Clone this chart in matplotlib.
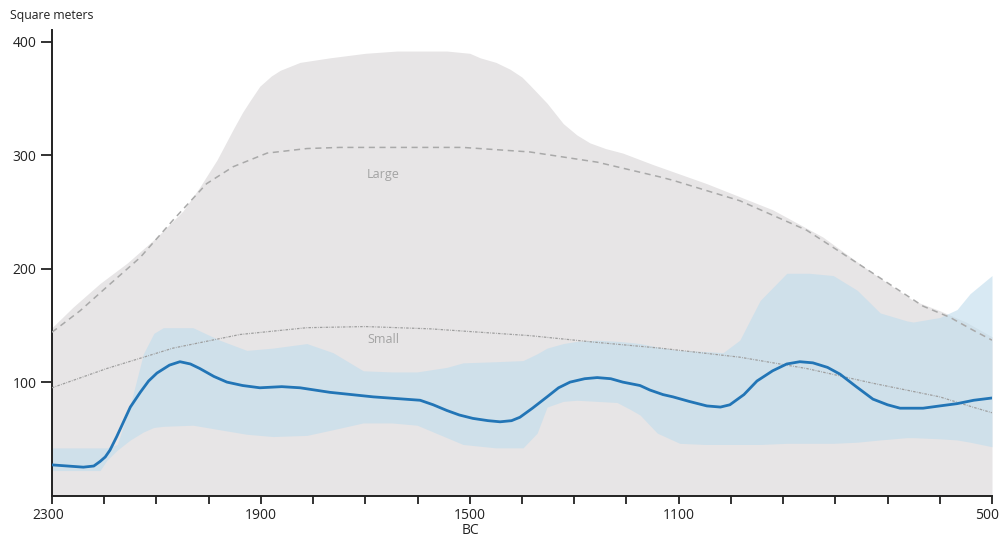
import matplotlib.pyplot as plt
import matplotlib.transforms as mtransforms
import numpy as np

plt.rcParams['font.family'] = ['Open Sans', 'DejaVu Sans']

# mean house size, all houses (blue line)
mean_years = [2300, 2270, 2240, 2220, 2208, 2198, 2189, 2176, 2164, 2150, 2131, 2115,
              2099, 2075, 2055, 2035, 2017, 1990, 1965, 1935, 1902, 1860, 1825,
              1768, 1685, 1595, 1570, 1544, 1520, 1494, 1465, 1442, 1420, 1404, 1380,
              1352, 1330, 1308, 1280, 1256, 1230, 1207, 1174, 1155, 1130, 1111, 1080,
              1046, 1020, 1002, 975, 950, 920, 893, 868, 843, 815, 791, 760, 728, 700,
              676, 650, 632, 600, 567, 535, 500]
mean_vals = [27, 26, 25, 26, 30, 34, 40, 52, 64, 78, 91, 101,
             108, 115, 118, 116, 112, 105, 100, 97, 95, 96, 95,
             91, 87, 84, 80, 75, 71, 68, 66, 65, 66, 69, 77,
             87, 95, 100, 103, 104, 103, 100, 97, 93, 89, 87, 83,
             79, 78, 80, 89, 101, 110, 116, 118, 117, 113, 107, 96, 85, 80,
             77, 77, 77, 79, 81, 84, 86]

# confidence band around the mean (light blue)
band_years = [2300, 2250, 2208, 2195, 2175, 2150, 2125, 2105, 2087, 2030, 1979, 1927,
              1877, 1812, 1762, 1704, 1650, 1601, 1544, 1513, 1450, 1398, 1371, 1352,
              1321, 1295, 1256, 1218, 1193, 1174, 1141, 1098, 1050, 1015, 983, 944,
              893, 850, 804, 758, 714, 663, 651, 600, 567, 542, 500]
band_hi = [42, 42, 42, 42, 45, 80, 125, 143, 148, 148, 137, 128,
           130, 134, 126, 110, 109, 109, 113, 117, 118, 119, 125, 130,
           134, 136, 137, 136, 135, 134, 131, 128, 127, 126, 137, 172,
           196, 196, 194, 181, 161, 154, 153, 157, 164, 178, 194]
band_lo = [22, 22, 22, 31, 40, 49, 56, 60, 61, 62, 58, 54,
           52, 53, 58, 64, 64, 62, 51, 45, 42, 42, 55, 78,
           83, 84, 83, 82, 76, 71, 55, 46, 45, 45, 45, 45,
           46, 46, 46, 47, 49, 51, 51, 50, 49, 47, 43]

# range of large houses (grey area)
large_years = [2300, 2260, 2208, 2156, 2099, 2049, 2017, 1984, 1953, 1935, 1921, 1902,
               1880, 1863, 1825, 1768, 1700, 1639, 1544, 1500, 1480, 1450, 1423, 1400,
               1385, 1352, 1321, 1295, 1270, 1240, 1207, 1150, 1046, 920, 824, 728,
               651, 600, 550, 500]
large_hi = [148, 166, 187, 205, 228, 251, 272, 296, 323, 338, 348, 361,
            370, 375, 382, 386, 390, 392, 392, 390, 386, 382, 376, 369,
            362, 346, 328, 318, 311, 306, 302, 292, 275, 252, 228, 196,
            172, 163, 153, 140]

# trend lines
large_trend_years = [2300, 2246, 2195, 2131, 2068, 2004, 1953, 1888, 1812, 1749, 1704,
                     1600, 1513, 1385, 1256, 1136, 1111, 983, 855, 728, 632, 580, 537, 500]
large_trend = [144, 163, 184, 210, 243, 275, 290, 302, 306, 307, 307,
               307, 307, 303, 294, 281, 278, 260, 234, 196, 167, 157, 146, 137]
small_trend_years = [2300, 2195, 2068, 1940, 1812, 1700, 1576, 1385, 1256, 1136,
                     983, 855, 728, 600, 537, 500]
small_trend = [95, 112, 130, 142, 148, 149, 147, 141, 135, 130,
               122, 112, 99, 87, 78, 73]

x_ticks = np.arange(500, 2301, 100)
x_labels = {2300: '2300', 1900: '1900', 1500: '1500', 1100: '1100', 500: '500'}
y_ticks = [100, 200, 300, 400]

fig = plt.figure(figsize=(9.99, 5.39), dpi=100)
ax = fig.add_axes([52 / 999, 43.5 / 539, 940 / 999, 466 / 539])

ax.fill_between(large_years, 0, large_hi, color='#e7e5e6', lw=0, zorder=1)
ax.fill_between(band_years, band_lo, band_hi, color='#c1dded', alpha=0.62,
                lw=0, zorder=2)
ax.plot(large_trend_years, large_trend, color='#a9a9a9', lw=1.1,
        ls=(0, (4, 3)), zorder=3)
ax.plot(small_trend_years, small_trend, color='#9e9e9e', lw=0.9,
        ls=(0, (2, 1, 0.6, 1)), zorder=3)
ax.plot(mean_years, mean_vals, color='#2275b6', lw=2.0, zorder=4,
        solid_capstyle='round', solid_joinstyle='round')

ax.text(1666, 283, 'Large', color='#a3a3a3', fontsize=9, ha='center', va='center')
ax.text(1666, 138, 'Small', color='#a3a3a3', fontsize=9, ha='center', va='center')

ax.set_xlim(2300, 500)
ax.set_ylim(0, 411)
ax.set_xticks(x_ticks)
ax.set_xticklabels([x_labels.get(int(t), '') for t in x_ticks])
ax.set_yticks(y_ticks)

for s in ['top', 'right']:
    ax.spines[s].set_visible(False)
for s in ['left', 'bottom']:
    ax.spines[s].set_linewidth(1.4)
    ax.spines[s].set_color('#222222')
ax.tick_params(axis='x', length=6, width=1.3, pad=3, labelsize=10,
               color='#222222', labelcolor='#222222')
ax.tick_params(axis='y', length=8, width=1.3, pad=3, labelsize=10,
               color='#222222', labelcolor='#222222')

# nudge the end labels inward like the reference
labels = ax.get_xticklabels()
shift_first = mtransforms.ScaledTranslation(-4 / 100, 0, fig.dpi_scale_trans)
shift_last = mtransforms.ScaledTranslation(-5 / 100, 0, fig.dpi_scale_trans)
labels[-1].set_transform(labels[-1].get_transform() + shift_first)
labels[0].set_transform(labels[0].get_transform() + shift_last)

fig.text(10 / 999, 1 - 16 / 539, 'Square meters', fontsize=8.8,
         color='#222222', ha='left', va='center')
fig.text(470 / 999, 1 - 531 / 539, 'BC', fontsize=10,
         color='#222222', ha='center', va='center')

fig.savefig('out.png', dpi=100)
